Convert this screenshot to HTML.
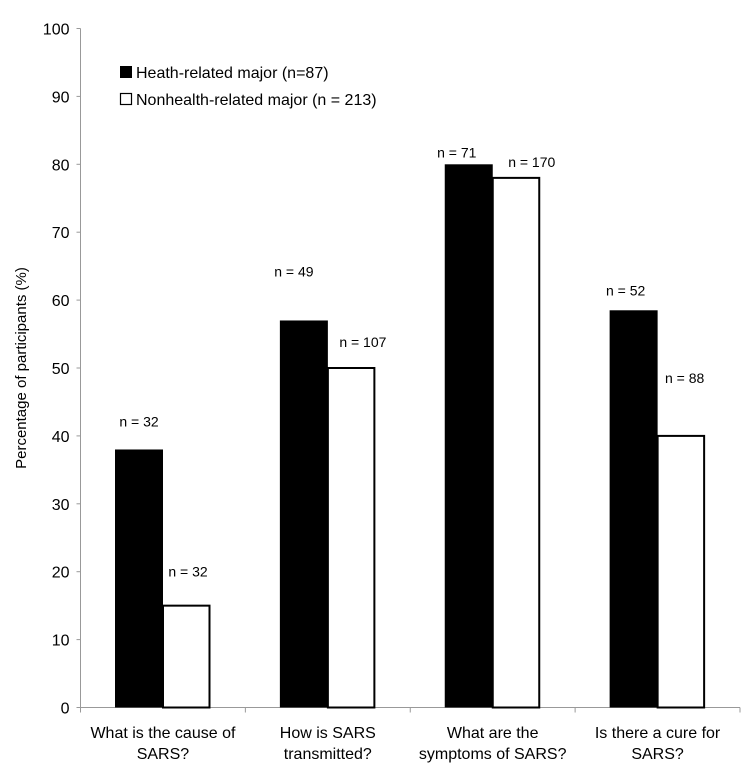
<!DOCTYPE html>
<html><head><meta charset="utf-8"><style>
body{margin:0;background:#fff;}
svg{display:block;font-family:"Liberation Sans",Arial,sans-serif;}
</style></head><body>
<svg id="chart" width="750" height="784"></svg>
<script>
const categories=[["What is the cause of","SARS?"],["How is SARS","transmitted?"],["What are the","symptoms of SARS?"],["Is there a cure for","SARS?"]];
const healthValues=[38,57,80,58.5];
const nonHealthValues=[15,50,78,40];
const healthLabels=["n = 32","n = 49","n = 71","n = 52"];
const nonHealthLabels=["n = 32","n = 107","n = 170","n = 88"];
const yTicks=[0,10,20,30,40,50,60,70,80,90,100];
const labelGapH=[28,49,12,20];
const labelGapN=[34,26,16,58];
const labelDxH=[0,-10,-12,-8];
const labelDxN=[1,11,15,3];

const svg=document.getElementById('chart');
const NS='http://www.w3.org/2000/svg';
const X0=80.5,X1=740,Y0=707.5,Y100=28.5;
const catW=(X1-X0)/categories.length;
function y(v){return Y0-(Y0-Y100)*v/100;}
function xCat(i){return X0+catW*i;}
function mk(tag,attrs,parent){const e=document.createElementNS(NS,tag);for(const k in attrs)e.setAttribute(k,attrs[k]);(parent||svg).appendChild(e);return e;}

// axes
let ax=mk('line',{x1:X0,y1:Y100,x2:X0,y2:Y0,stroke:'#999','stroke-width':1});


let bx=mk('line',{x1:X0,y1:Y0,x2:X1,y2:Y0,stroke:'#999','stroke-width':1});


yTicks.forEach(t=>{
  let l=mk('line',{x1:X0-4,y1:y(t),x2:X0,y2:y(t),stroke:'#999'});
  
  
  let tx=mk('text',{x:X0-11,y:y(t)+6,'text-anchor':'end','font-size':16,fill:'#000'});
  tx.textContent=t;
  
  
});
for(let i=0;i<=categories.length;i++){
  let l=mk('line',{x1:xCat(i),y1:Y0,x2:xCat(i),y2:Y0+5,stroke:'#999'});
  
  
}
let yt=mk('text',{x:0,y:0,'text-anchor':'middle','font-size':15,transform:'translate(26,368) rotate(-90)'});
yt.textContent='Percentage of participants (%)';



categories.forEach((c,i)=>{
  const bw=48, bxs=xCat(i)+34.5;
  let b1=mk('rect',{x:bxs,y:y(healthValues[i]),width:bw,height:Y0-y(healthValues[i]),fill:'#000'});
  
  
  let b2=mk('rect',{x:bxs+bw,y:y(nonHealthValues[i]),width:bw-1.5,height:Y0-y(nonHealthValues[i]),fill:'#fff',stroke:'#000','stroke-width':2});
  
  
  let l1=mk('text',{x:bxs+bw/2+labelDxH[i],y:y(healthValues[i])-labelGapH[i]+5,'text-anchor':'middle','font-size':14});
  l1.textContent=healthLabels[i];
  
  
  let l2=mk('text',{x:bxs+bw*1.5+labelDxN[i],y:y(nonHealthValues[i])-labelGapN[i]+5,'text-anchor':'middle','font-size':14});
  l2.textContent=nonHealthLabels[i];
  
  
  c.forEach((line,j)=>{
    let t=mk('text',{x:xCat(i)+catW/2,y:738+j*21,'text-anchor':'middle','font-size':16});
    t.textContent=line;
    
    
  });
});

// legend
let s1=mk('rect',{x:120,y:66,width:12,height:12,fill:'#000'});


let t1=mk('text',{x:136,y:78,'font-size':16});
t1.textContent='Heath-related major (n=87)';


let s2=mk('rect',{x:120.5,y:93.5,width:11,height:11,fill:'#fff',stroke:'#000','stroke-width':1.2});


let t2=mk('text',{x:136,y:105,'font-size':16});
t2.textContent='Nonhealth-related major (n = 213)';


</script>
</body></html>
